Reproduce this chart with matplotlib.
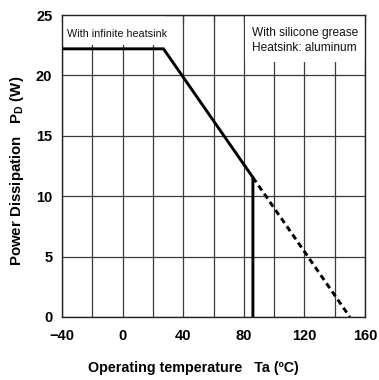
import matplotlib
matplotlib.use('Agg')
import matplotlib.pyplot as plt
from matplotlib.patches import Rectangle

plt.rcParams['font.family'] = ['Liberation Sans', 'DejaVu Sans']

# derating curve (solid) and extension (dashed)
temp_solid = [-40, 27, 86, 86]
pd_solid = [22.2, 22.2, 11.55, 0]
temp_dash = [86, 150]
pd_dash = [11.55, 0]

xticks = [-40, 0, 40, 80, 120, 160]
xticklabels = ['\u221240', '0', '40', '80', '120', '160']
yticks = [0, 5, 10, 15, 20, 25]

fig = plt.figure(figsize=(3.79, 3.80), dpi=100, facecolor='white')
ax = fig.add_axes([0.1636, 0.1658, 0.7995, 0.7947])

ax.set_xlim(-40, 160)
ax.set_ylim(0, 25)
ax.set_xticks(xticks)
ax.set_xticklabels(xticklabels)
ax.set_xticks(range(-40, 161, 20), minor=True)
ax.set_yticks(yticks)
ax.grid(True, which='both', axis='x', color='#3a3a3a', lw=0.9, zorder=1)
ax.grid(True, which='major', axis='y', color='#3a3a3a', lw=0.9, zorder=1)
ax.tick_params(which='both', top=True, bottom=False, left=False, right=False,
               direction='in', length=5, width=0.9, color='#3a3a3a')
ax.tick_params(axis='x', which='both', labelsize=10.5, pad=9)
ax.tick_params(axis='y', which='both', labelsize=10.5, pad=7)
for lbl in ax.get_xticklabels() + ax.get_yticklabels():
    lbl.set_fontweight('bold')
for s in ax.spines.values():
    s.set_linewidth(1.0)
    s.set_color('#222222')
    s.set_zorder(6)

# white label boxes hiding the grid
ax.add_patch(Rectangle((-40, 22.55), 68.5, 2.45, fc='white', ec='none', zorder=2))
ax.add_patch(Rectangle((81, 21.1), 79, 3.9, fc='white', ec='none', zorder=2))
ax.text(-36.6, 23.4, 'With infinite heatsink', ha='left', va='center', fontsize=7.75,
        color='#111111', zorder=3)
ax.text(85.5, 23.55, 'With silicone grease', ha='left', va='center', fontsize=8.6,
        color='#111111', zorder=3)
ax.text(85.5, 22.3, 'Heatsink: aluminum', ha='left', va='center', fontsize=8.6,
        color='#111111', zorder=3)

ax.plot(temp_solid, pd_solid, color='black', lw=2.1, zorder=4, solid_joinstyle='miter')
ax.plot(temp_dash, pd_dash, color='black', lw=2.1, ls=(0, (2.0, 1.4)), zorder=4)

ax.set_xlabel('Operating temperature   Ta (ºC)', fontsize=10.3, fontweight='bold')
ax.set_ylabel(r'Power Dissipation   P$_{\mathregular{D}}$ (W)', fontsize=10.8,
              fontweight='bold')
ax.xaxis.set_label_coords(0.434, -0.145)
ax.yaxis.set_label_coords(-0.12, 0.483)

fig.savefig('out.png', dpi=100, facecolor='white')
